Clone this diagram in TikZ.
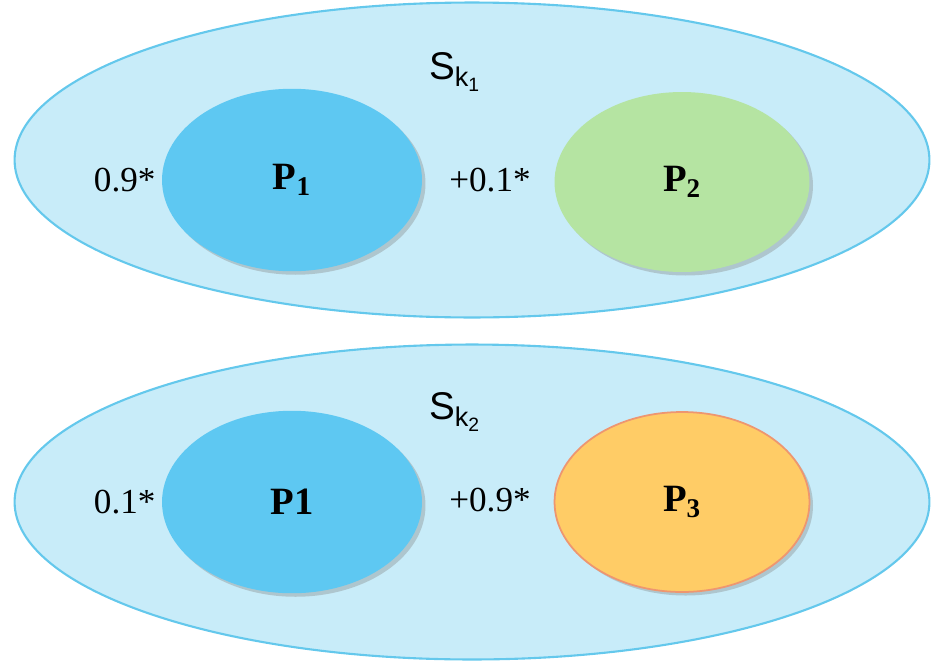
\documentclass[tikz,border=0pt]{standalone}
\usepackage{fontspec}
\setmainfont{Liberation Serif}
\setsansfont{Liberation Sans}
\usetikzlibrary{shapes.geometric,shadows,positioning}
\definecolor{outerfill}{RGB}{200,236,249}
\definecolor{outerline}{RGB}{100,200,236}
\definecolor{pblue}{RGB}{94,200,242}
\definecolor{pgreen}{RGB}{181,228,162}
\definecolor{porange}{RGB}{255,204,102}
\definecolor{porangeline}{RGB}{238,150,112}
\tikzset{
  group/.style={ellipse, draw=outerline, fill=outerfill, line width=1.2pt,
    minimum width=18.3cm, minimum height=6.3cm},
  part/.style={ellipse, draw=none, minimum width=5.2cm, minimum height=3.65cm,
    drop shadow={shadow xshift=2pt, shadow yshift=-2pt, opacity=0.35},
    font=\fontsize{22}{26}\selectfont\bfseries},
  weight/.style={font=\fontsize{20}{24}\selectfont},
  grouplabel/.style={font=\sffamily\fontsize{22}{26}\selectfont}
}
\begin{document}
\begin{tikzpicture}[x=0.02cm, y=-0.02cm]
    \useasboundingbox (0,0) rectangle (945,666);
    \node[group] (g1) at (472,160) {};
    \node[group] (g2) at (472,502) {};
    \node[grouplabel] (s1) at (455,72) {S$_{\mathsf{k}_{\mathsf{1}}}$};
    \node[grouplabel] (s2) at (455,412) {S$_{\mathsf{k}_{\mathsf{2}}}$};

    \node[part, fill=pblue] (p1) at (292,180) {P\textsubscript{1}};
    \node[part, fill=pgreen, minimum width=5.1cm, minimum height=3.6cm] (p2) at (682,182) {P\textsubscript{2}};
    \node[part, fill=pblue] (q1) at (292,502) {P1};
    \node[part, fill=porange, draw=porangeline, line width=1pt, minimum width=5.1cm, minimum height=3.6cm] (p3) at (682,502) {P\textsubscript{3}};

    \node[weight, left=0pt of p1] (w1) {0.9*};
    \node[weight] (w2) at (490,180) {+0.1*};
    \node[weight, left=0pt of q1] (w3) {0.1*};
    \node[weight] (w4) at (490,500) {+0.9*};
\end{tikzpicture}
\end{document}
